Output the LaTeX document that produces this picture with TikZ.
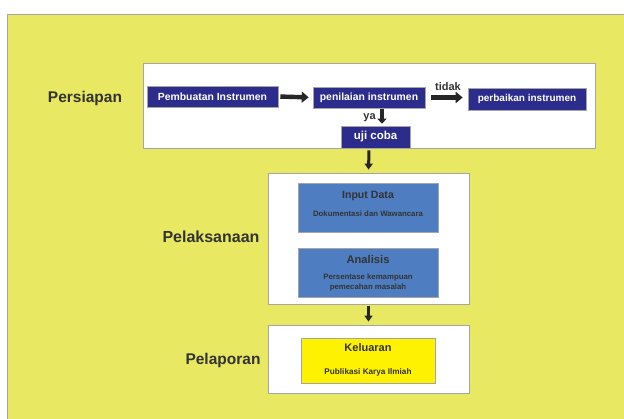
\documentclass[tikz,border=0pt]{standalone}
\usepackage{fontspec}
\setmainfont{Liberation Sans}
\usetikzlibrary{arrows.meta}
\definecolor{bgyellow}{RGB}{232,232,98}
\definecolor{navy}{RGB}{44,44,140}
\definecolor{midblue}{RGB}{78,126,193}
\definecolor{brightyellow}{RGB}{255,242,0}
\definecolor{txtgray}{RGB}{51,51,51}
\definecolor{edgegray}{RGB}{165,165,165}
\tikzset{
  panel/.style={draw=edgegray, line width=0.8pt, fill=white, inner sep=0pt},
  navybox/.style={draw=edgegray, line width=0.6pt, fill=navy, text=white, inner sep=0pt, font=\fontsize{10.4}{12}\selectfont\bfseries},
  bluebox/.style={draw=edgegray, line width=0.6pt, fill=midblue, inner sep=0pt},
  yelbox/.style={draw=edgegray, line width=0.6pt, fill=brightyellow, inner sep=0pt},
  phase/.style={text=txtgray, anchor=base, inner sep=0pt, font=\fontsize{15.5}{18}\selectfont\bfseries},
  inner/.style={text=txtgray, anchor=base, inner sep=0pt, align=center},
  bigarrow/.style={black!85, line width=4.4pt, -{Triangle[length=7pt,width=11pt]}},
  downarrow/.style={black!85, line width=3pt, -{Triangle[length=6pt,width=8pt]}},
  lbl/.style={text=txtgray, inner sep=0pt, anchor=base, font=\fontsize{11}{13}\selectfont\bfseries}
}
\begin{document}
\begin{tikzpicture}[x=1pt,y=-1pt]
\useasboundingbox (0,0) rectangle (624,419);
\fill[white] (0,0) rectangle (624,419);
\fill[bgyellow] (7,15) rectangle (624,419);
\draw[edgegray, line width=1pt] (7,419) -- (7,15) -- (624,15);

% Persiapan
\node[panel, minimum width=452pt, minimum height=85pt] (prep) at (369,105.5) {};
\node[navybox, minimum width=131pt, minimum height=21pt] (pemb) at (212.5,96.5) {Pembuatan Instrumen};
\node[navybox, minimum width=112pt, minimum height=21pt] (pen) at (369,97.5) {penilaian instrumen};
\node[navybox, minimum width=118pt, minimum height=22pt, font=\fontsize{10}{12}\selectfont\bfseries] (perb) at (527,99) {perbaikan instrumen};
\node[navybox, minimum width=69pt, minimum height=22pt, font=\fontsize{11.5}{13}\selectfont\bfseries] (uji) at (375.5,137) {uji coba};
\node[phase] (tprep) at (85,103) {Persiapan};

\draw[bigarrow, shorten <=2pt, shorten >=4pt] (pemb.east) -- (pen.west);
\draw[bigarrow, shorten <=6pt, shorten >=5pt] (pen.east) -- (perb.west |- pen.east);
\node[lbl] (tidak) at (448,91) {tidak};
\coordinate (yx) at (382,0);
\draw[black!85, line width=3.6pt, -{Triangle[length=5pt,width=9pt]}, shorten <=1pt, shorten >=2pt] (pen.south -| yx) -- (uji.north -| yx);
\node[lbl, font=\fontsize{11}{13}\selectfont\bfseries] (ya) at (369.5,120) {ya};

% Pelaksanaan
\node[panel, minimum width=201pt, minimum height=131pt] (exec) at (368.5,238.5) {};
\node[bluebox, minimum width=140pt, minimum height=49pt] (inp) at (368,207.5) {};
\node[inner, font=\fontsize{10.6}{12}\selectfont\bfseries] (inpt) at (368,199) {Input Data};
\node[inner, font=\fontsize{7.8}{10}\selectfont\bfseries] (inps) at (368,217) {Dokumentasi dan Wawancara};
\node[bluebox, minimum width=140pt, minimum height=49pt] (ana) at (368,272.5) {};
\node[inner, font=\fontsize{11.2}{14}\selectfont\bfseries] (anat) at (368,263.5) {Analisis};
\node[inner, font=\fontsize{7.8}{10}\selectfont\bfseries] (anas1) at (368,279.5) {Persentase kemampuan};
\node[inner, font=\fontsize{7.8}{10}\selectfont\bfseries] (anas2) at (368,290) {pemecahan masalah};
\node[phase, font=\fontsize{16}{18}\selectfont\bfseries] (texec) at (211,243) {Pelaksanaan};

% Pelaporan
\node[panel, minimum width=201pt, minimum height=68pt] (rep) at (368.5,359) {};
\node[yelbox, minimum width=134pt, minimum height=45pt] (kel) at (368,360.5) {};
\node[inner, font=\fontsize{11}{13}\selectfont\bfseries] (kelt) at (368,352) {Keluaran};
\node[inner, font=\fontsize{8.2}{10}\selectfont\bfseries] (kels) at (368,375) {Publikasi Karya Ilmiah};
\node[phase] (trep) at (223,364.5) {Pelaporan};

\draw[downarrow, shorten <=2pt, shorten >=3pt] (prep.south) -- (exec.north);
\draw[downarrow, shorten <=2pt, shorten >=3pt] (exec.south) -- (rep.north);
\end{tikzpicture}
\end{document}
